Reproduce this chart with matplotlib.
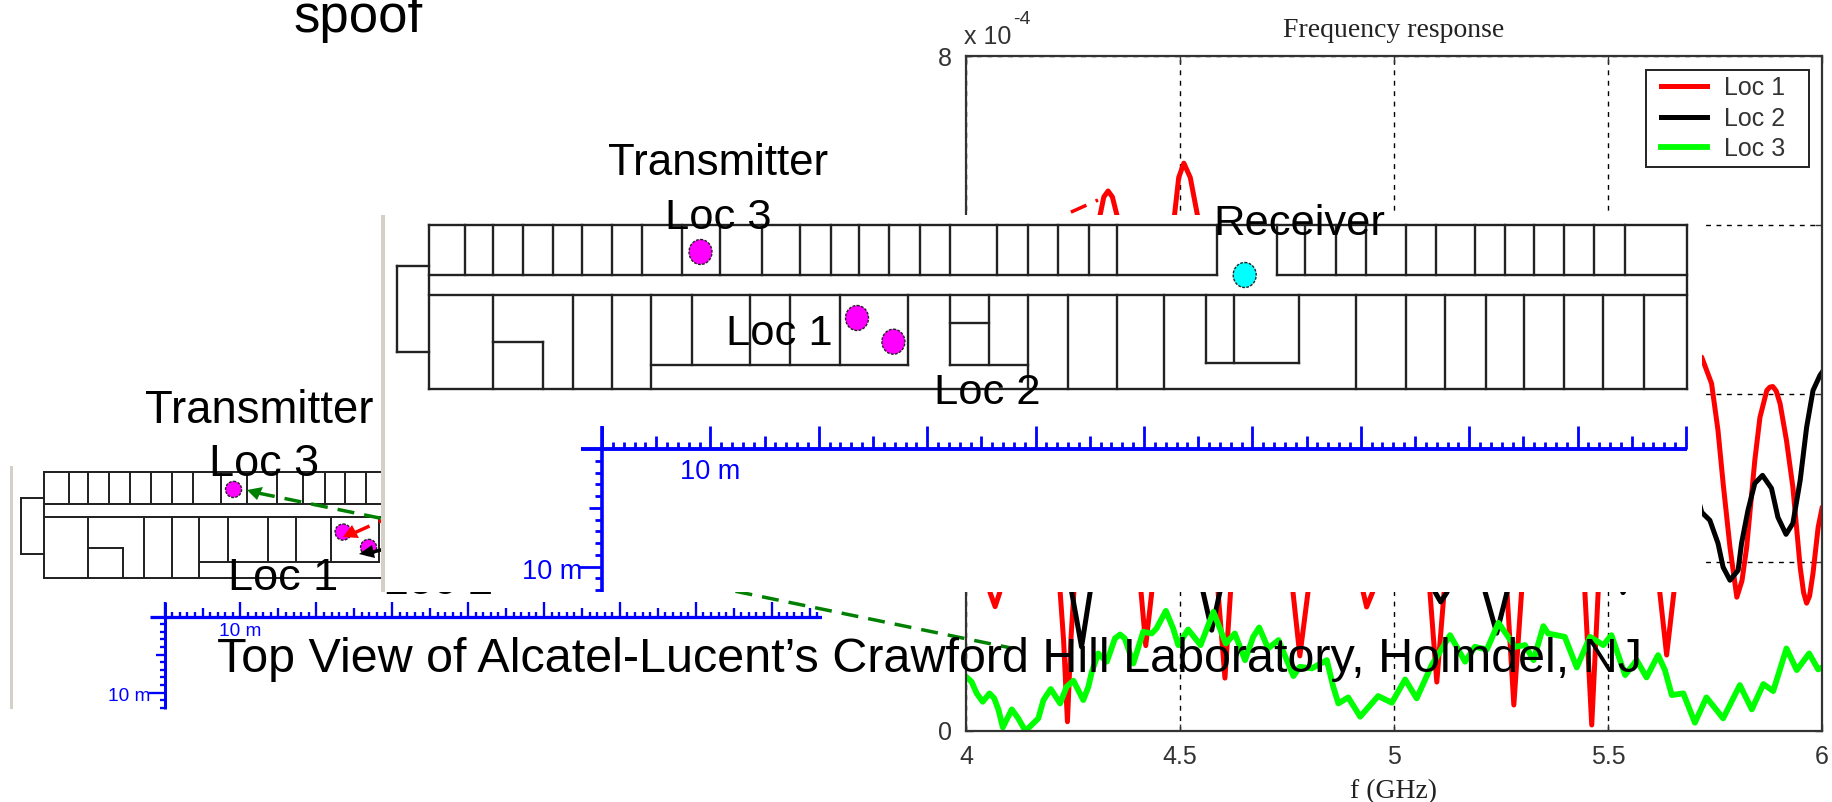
"""Crawford Hill figure: frequency response plot with two floor plan copies pasted over it."""

import matplotlib

matplotlib.use("Agg")
import matplotlib.pyplot as plt
from matplotlib.patches import Ellipse, Polygon, Rectangle

W, H = 1832, 802
SANS = "Liberation Sans"
SERIF = "Liberation Serif"
BLUE = "#0000FF"
GRAY = "#D4D0C8"
WALL = "#222222"

# frequency response, f in GHz, magnitude in units of 1e-4
RED_F = [4.000, 4.056, 4.068, 4.079, 4.150, 4.220, 4.228, 4.237, 4.245, 4.252, 4.313, 4.322, 4.332, 4.342, 4.353,
         4.409, 4.420, 4.434, 4.487, 4.497, 4.509, 4.524, 4.541, 4.589, 4.605, 4.618, 4.692, 4.764, 4.780, 4.799,
         4.862, 4.928, 4.936, 4.950, 5.014, 5.084, 5.100, 5.117, 5.189, 5.264, 5.280, 5.298, 5.371,
         5.446, 5.462, 5.477, 5.547, 5.621, 5.637, 5.654, 5.692, 5.719, 5.742, 5.757, 5.769, 5.785,
         5.801, 5.813, 5.824, 5.843, 5.855, 5.871, 5.878, 5.885, 5.893, 5.902, 5.917, 5.932, 5.949, 5.957, 5.964,
         5.971, 5.979, 5.991, 6.000]
RED_V = [3.917, 1.645, 1.474, 1.645, 4.500, 1.645, 1.077, 0.110, 1.077, 1.645, 6.107, 6.330, 6.400, 6.330, 6.107,
         1.645, 1.012, 1.645, 6.107, 6.560, 6.730, 6.560, 6.107, 1.645, 0.627, 1.645, 5.000, 1.645, 0.890, 1.645,
         4.000, 1.645, 1.470, 1.645, 4.500, 1.645, 0.580, 1.645, 5.000, 1.645, 0.308, 1.645, 5.000,
         1.645, 0.071, 1.645, 4.500, 1.645, 0.900, 1.645, 4.500, 4.430, 4.118, 3.562, 2.935, 2.178,
         1.586, 1.780, 2.178, 3.207, 3.716, 4.036, 4.075, 4.083, 4.030, 3.882, 3.444, 2.888, 1.941, 1.640, 1.515,
         1.600, 1.870, 2.414, 2.639]

BLACK_F = [4.000, 4.126, 4.247, 4.270, 4.290, 4.430, 4.554, 4.574, 4.593, 4.850, 5.096, 5.109, 5.124,
           5.168, 5.213, 5.240, 5.264, 5.400, 5.528, 5.535, 5.547, 5.645, 5.719, 5.738, 5.757, 5.769,
           5.785, 5.804, 5.812, 5.827, 5.843, 5.861, 5.882, 5.897, 5.916, 5.932, 5.949, 5.964, 5.979,
           5.995, 6.000]
BLACK_V = [4.000, 4.500, 1.645, 0.998, 1.645, 4.500, 1.645, 1.195, 1.645, 4.500, 1.645, 1.530, 1.645,
           3.500, 1.645, 1.160, 1.645, 4.000, 1.750, 1.640, 1.750, 4.000, 2.592, 2.497, 2.225, 1.941,
           1.787, 1.905, 2.225, 2.615, 2.935, 3.030, 2.876, 2.533, 2.331, 2.462, 2.970, 3.598, 4.036,
           4.213, 4.250]

GREEN_F = [4.000, 4.013, 4.025, 4.039, 4.055, 4.066, 4.076, 4.086, 4.107, 4.122, 4.139, 4.169, 4.181,
           4.198, 4.220, 4.235, 4.251, 4.274, 4.286, 4.294, 4.309, 4.329, 4.348, 4.360, 4.371, 4.391,
           4.414, 4.434, 4.445, 4.467, 4.484, 4.496, 4.519, 4.548, 4.578, 4.607, 4.628, 4.652, 4.671,
           4.685, 4.706, 4.730, 4.765, 4.780, 4.808, 4.843, 4.858, 4.870, 4.893, 4.921, 4.963, 4.995,
           5.026, 5.053, 5.088, 5.131, 5.166, 5.189, 5.217, 5.244, 5.283, 5.306, 5.326, 5.349, 5.360,
           5.399, 5.427, 5.458, 5.489, 5.508, 5.540, 5.567, 5.590, 5.617, 5.633, 5.649, 5.676, 5.703,
           5.730, 5.769, 5.808, 5.836, 5.863, 5.886, 5.917, 5.941, 5.970, 5.991, 6.000]
GREEN_V = [0.643, 0.584, 0.446, 0.347, 0.446, 0.387, 0.249, 0.043, 0.256, 0.150, 0.000, 0.150, 0.367,
           0.497, 0.327, 0.525, 0.596, 0.367, 0.525, 0.702, 0.919, 0.821, 1.097, 1.144, 1.097, 0.801,
           1.176, 1.156, 1.215, 1.424, 1.215, 1.018, 1.203, 1.018, 1.412, 1.037, 1.156, 0.840, 1.116,
           1.227, 0.978, 1.077, 0.651, 0.761, 0.742, 0.840, 0.525, 0.327, 0.398, 0.170, 0.414, 0.335,
           0.611, 0.387, 0.781, 1.136, 0.821, 0.998, 0.966, 1.282, 0.998, 1.018, 0.840, 1.243, 1.156,
           1.116, 0.753, 1.116, 1.018, 1.136, 0.663, 0.840, 0.635, 0.899, 0.722, 0.426, 0.446, 0.099,
           0.398, 0.150, 0.544, 0.256, 0.556, 0.473, 0.978, 0.722, 0.919, 0.730, 0.753]

X_TICKS = [4, 4.5, 5, 5.5, 6]
X_TICK_LABELS = ["4", "4.5", "5", "5.5", "6"]
Y_TICKS = [0, 2, 4, 6, 8]
SERIES_NAMES = ["Loc 1", "Loc 2", "Loc 3"]

# floor plan walls, in pixels of the large copy
TOP_ROOMS = [465, 493, 523, 553, 582, 612, 642, 682, 720, 762, 800, 831, 859, 889, 920, 950, 997, 1028,
             1058, 1089, 1117, 1217, 1277, 1305, 1336, 1366, 1406, 1436, 1475, 1505, 1534, 1564, 1594, 1625]
BOTTOM_ROOMS = [493, 573, 612, 651, 1028, 1068, 1117, 1164, 1356, 1406, 1445, 1486, 1524, 1564, 1603, 1644]
SHORT_ROOMS = [692, 750, 790, 840, 908, 950, 989]
SHORT_ROOMS_2 = [1206, 1234, 1299]
TX_X = [700.5, 857, 893.4]
TX_Y = [252, 318, 341.7]
RX_X = [1244.7]
RX_Y = [275]


def draw_plan(ax, sx, sy, dx, dy, z):
    """One pasted copy of the floor plan; the small one is the large one scaled."""
    fx = lambda x: dx + x * sx
    fy = lambda y: dy + y * sy
    lw = 1.7 * sx ** 0.5
    tick_lw = 2.0 * sx ** 0.5

    ax.add_patch(Rectangle((fx(381), fy(215)), 4 * sx, 377 * sy, color=GRAY, lw=0, zorder=z))

    def hline(y, x0, x1):
        ax.plot([fx(x0), fx(x1)], [fy(y), fy(y)], color=WALL, lw=lw, zorder=z)

    def vline(x, y0, y1):
        ax.plot([fx(x), fx(x)], [fy(y0), fy(y1)], color=WALL, lw=lw, zorder=z)

    hline(225, 429, 1687)
    hline(275, 429, 1217)
    hline(275, 1277, 1687)
    hline(295, 429, 1687)
    hline(389, 429, 1687)
    hline(266, 397, 429)
    hline(352, 397, 429)
    vline(397, 266, 352)
    vline(429, 225, 389)
    vline(1687, 225, 389)
    for x in TOP_ROOMS:
        vline(x, 225, 275)
    for x in BOTTOM_ROOMS:
        vline(x, 295, 389)
    for x in SHORT_ROOMS:
        vline(x, 295, 365)
    for x in SHORT_ROOMS_2:
        vline(x, 295, 363)
    hline(365, 651, 908)
    hline(365, 950, 1028)
    hline(323, 950, 989)
    hline(342, 493, 543)
    vline(543, 342, 389)
    hline(363, 1206, 1299)

    for x, y in zip(TX_X, TX_Y):
        ax.add_patch(Ellipse((fx(x), fy(y)), 23 * sx, 25 * sy, fc="#FF00FF", ec="#222222",
                             lw=1.0, ls=(0, (2, 1)), zorder=z + 1))
    for x, y in zip(RX_X, RX_Y):
        ax.add_patch(Ellipse((fx(x), fy(y)), 23 * sx, 25 * sy, fc="#00FFFF", ec="#222222",
                             lw=1.0, ls=(0, (2, 1)), zorder=z + 1))

    # blue scale bars
    ax.plot([fx(581), fx(1687)], [fy(449), fy(449)], color=BLUE, lw=2.8 * sx ** 0.5, zorder=z,
            solid_capstyle="butt")
    ax.plot([fx(602), fx(602)], [fy(426), fy(592)], color=BLUE, lw=2.6 * sx ** 0.5, zorder=z,
            solid_capstyle="butt")
    for k in range(0, 101):
        x = 602 + k * 10.84
        if k % 10 == 0:
            tip = 426
        elif k % 5 == 0:
            tip = 436
        else:
            tip = 442
        ax.plot([fx(x), fx(x)], [fy(449), fy(tip)], color=BLUE, lw=tick_lw, zorder=z,
                solid_capstyle="butt")
    for k in range(1, 13):
        y = 449 + k * 11.76
        end = {5: 589, 10: 579}.get(k, 595)
        ax.plot([fx(end), fx(602)], [fy(y), fy(y)], color=BLUE, lw=tick_lw, zorder=z,
                solid_capstyle="butt")
    ax.text(fx(710), fy(472), "10 m", color=BLUE, family=SANS, fontsize=19.5 * sx,
            ha="center", va="center", zorder=z)
    ax.text(fx(582), fy(572), "10 m", color=BLUE, family=SANS, fontsize=19.5 * sx,
            ha="right", va="center", zorder=z)


def px_axes(fig, z):
    ax = fig.add_axes([0, 0, 1, 1], zorder=z)
    ax.set_xlim(0, W)
    ax.set_ylim(H, 0)
    ax.axis("off")
    ax.patch.set_alpha(0)
    return ax


def big_text(ax, x, y, s, size=32.5):
    ax.text(x, y, s, family=SANS, fontsize=size, color="black", ha="left", va="baseline", zorder=30)


fig = plt.figure(figsize=(W / 100, H / 100), dpi=100, facecolor="white")

# bottom layer: small floor plan, then the white of the pasted plot
back = px_axes(fig, 1)
draw_plan(back, 0.70, 0.646, 43.5 - 429 * 0.70, 472 - 225 * 0.646, 2)
big_text(back, 383, 594, "Loc 2")
back.add_patch(Rectangle((822, 0), W - 822, H, color="white", lw=0, zorder=10))

# frequency response
ax = fig.add_axes([966 / W, (H - 731) / H, 856 / W, 675 / H], zorder=2)
ax.plot(RED_F, RED_V, color="#FF0000", lw=3.6, label=SERIES_NAMES[0], solid_joinstyle="round")
ax.plot(BLACK_F, BLACK_V, color="black", lw=3.6, label=SERIES_NAMES[1], solid_joinstyle="round")
ax.plot(GREEN_F, GREEN_V, color="#00FF00", lw=4.2, label=SERIES_NAMES[2], solid_joinstyle="round")
ax.set_xlim(4, 6)
ax.set_ylim(0, 8)
ax.set_xticks(X_TICKS)
ax.set_xticklabels(X_TICK_LABELS)
ax.set_yticks(Y_TICKS)
ax.tick_params(direction="in", top=True, right=True, length=5, width=1, colors="#333333",
               labelsize=18, pad=10)
for lab in ax.get_xticklabels() + ax.get_yticklabels():
    lab.set_family(SANS)
ax.grid(True, color="black", lw=1.0, ls=(0, (3.5, 4)))
for spine in ax.spines.values():
    spine.set_color("#333333")
    spine.set_linewidth(1.6)
ax.set_title("Frequency response", family=SERIF, fontsize=20, color="#222222", pad=14)
ax.set_xlabel("f (GHz)", family=SERIF, fontsize=20, color="#222222", labelpad=7)
ax.legend(loc="upper left", bbox_to_anchor=((1661 - 966) / 856, (731 - 76) / 675),
          borderaxespad=0, borderpad=0, frameon=False,
          prop={"family": SANS, "size": 18}, labelcolor="#333333", handlelength=1.84,
          handletextpad=0.68, labelspacing=0.26)

# arrows and labels that lie on top of the plot but under the large floor plan
mid = px_axes(fig, 3)
mid.add_patch(Rectangle((1646, 70), 163, 97, fc="none", ec="#222222", lw=1.4))
mid.plot([258, 1011], [493, 648], color="#008000", lw=2.5, dashes=(4.9, 2.9))
mid.add_patch(Polygon([(247, 490), (263, 487), (257, 500)], color="#008000", lw=0))
mid.plot([354, 1098], [533, 200], color="#FF0000", lw=2.5, dashes=(4.9, 2.9))
mid.add_patch(Polygon([(343, 537), (352, 525), (359, 538)], color="#FF0000", lw=0))
mid.plot([373, 420], [552, 540], color="black", lw=2.5, dashes=(4.9, 2.9))
mid.add_patch(Polygon([(359, 554), (372, 545), (375, 558)], color="black", lw=0))
mid.text(964, 37, "x 10", family=SANS, fontsize=18, color="#333333", ha="left", va="center")
mid.text(1013, 19, "-4", family=SANS, fontsize=14, color="#333333", ha="left", va="center")
big_text(mid, 145, 423, "Transmitter", size=32.8)
big_text(mid, 209, 476, "Loc 3")
big_text(mid, 228, 590, "Loc 1")
big_text(mid, 293, 32, "spoof", size=38)

# large floor plan pasted on a white panel
top = px_axes(fig, 4)
top.add_patch(Rectangle((381, 215), 1702 - 381, 377, color="white", lw=0, zorder=1))
draw_plan(top, 1.0, 1.0, 0, 0, 2)
big_text(top, 608, 175, "Transmitter", size=31.6)
big_text(top, 665, 229, "Loc 3", size=31.3)
big_text(top, 726, 345, "Loc 1", size=31.3)
big_text(top, 934, 404, "Loc 2", size=31.3)
big_text(top, 1213, 235, "Receiver", size=31.3)
big_text(top, 217, 672, "Top View of Alcatel-Lucent\u2019s Crawford Hill Laboratory, Holmdel, NJ", size=34.9)

fig.savefig("out.png", dpi=100)
